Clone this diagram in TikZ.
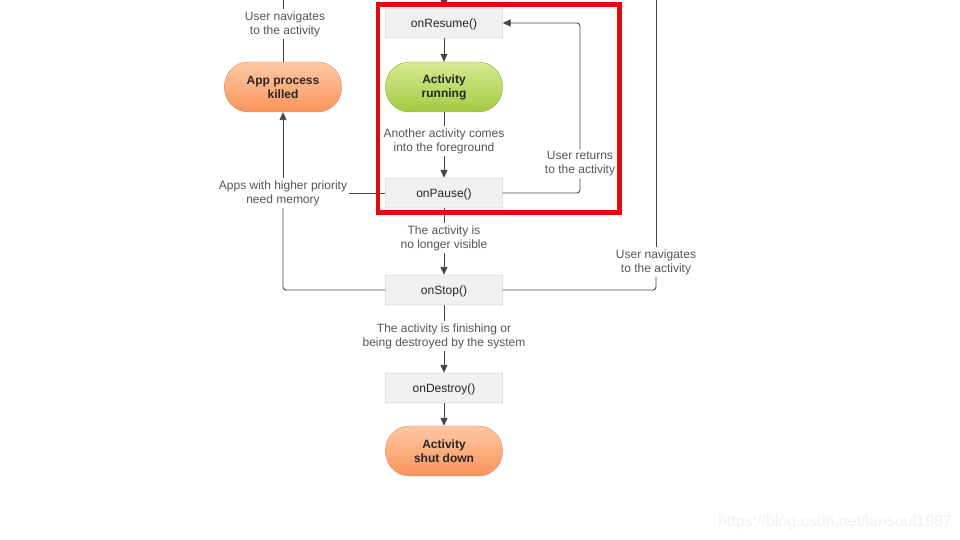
\documentclass[tikz,border=0pt]{standalone}
\usepackage{fontspec}
\setmainfont{Liberation Sans}
\usepackage{xcolor}
\definecolor{lineGray}{RGB}{68,68,68}
\definecolor{textGray}{RGB}{85,85,85}
\definecolor{boxFill}{RGB}{240,240,240}
\definecolor{boxLine}{RGB}{186,186,186}
\definecolor{greenTop}{RGB}{214,234,146}
\definecolor{greenBot}{RGB}{164,202,66}
\definecolor{greenLine}{RGB}{140,176,58}
\definecolor{orangeTop}{RGB}{255,200,164}
\definecolor{orangeBot}{RGB}{250,148,90}
\definecolor{orangeLine}{RGB}{214,138,96}
\definecolor{markRed}{RGB}{232,8,12}
\usetikzlibrary{arrows.meta}

\begin{document}
\begin{tikzpicture}[
    x=1pt,y=-1pt,
    every node/.style={font=\fontsize{12}{14}\selectfont},
    call/.style={draw=boxLine,fill=boxFill,minimum width=117pt,
                minimum height=30pt,text=black!85,rounded corners=1pt,
                text height=11pt,text depth=2.5pt},
    pill/.style={draw=#1Line,top color=#1Top,bottom color=#1Bot,
                minimum width=117pt,minimum height=50pt,rounded corners=24pt,
                align=center,text=black!85,font=\fontsize{12}{14}\selectfont\bfseries},
    lbl/.style={fill=white,align=center,text=textGray,inner sep=2pt},
    wire/.style={draw=lineGray,line width=0.9pt,rounded corners=3pt},
    arr/.style={wire,-{Triangle[length=8pt,width=7pt]}},
  ]
    \useasboundingbox (0,0) rectangle (960,540);

    % Callbacks and states
    \node[call] (resume)   at (444,23)  {onResume()};
    \node[pill=green] (running) at (444,87) {Activity\\running};
    \node[call] (pause)    at (444,193) {onPause()};
    \node[call] (stop)     at (444,290) {onStop()};
    \node[call] (destroy)  at (444,388) {onDestroy()};
    \node[pill=orange] (shutdown) at (444,451) {Activity\\shut down};
    \node[pill=orange] (killed)   at (283,87)  {App process\\killed};

    % Labels
    \node[lbl] (lblfg)   at (444,141) {Another activity comes\\into the foreground};
    \node[lbl] (lblret)  at (580,164) {User returns\\to the activity};
    \node[lbl] (lblvis)  at (444,238) {The activity is\\no longer visible};
    \node[lbl] (lblfin)  at (444,336) {The activity is finishing or\\being destroyed by the system};
    \node[lbl] (lblmem)  at (283,193) {Apps with higher priority\\need memory};
    \node[lbl] (lblnavA) at (285,24)  {User navigates\\to the activity};
    \node[lbl] (lblnavB) at (656,262) {User navigates\\to the activity};

    \coordinate (topA) at (283,0);
    \coordinate (topB) at (444,0);
    \coordinate (topC) at (656,0);

    % Main flow
    \draw[arr] (topB) -- (resume);
    \draw[arr] (resume) -- (running);
    \draw[wire] (running) -- (lblfg);
    \draw[arr] (lblfg) -- (pause);
    \draw[wire] (pause) -- (lblvis);
    \draw[arr] (lblvis) -- (stop);
    \draw[wire] (stop) -- (lblfin);
    \draw[arr] (lblfin) -- (destroy);
    \draw[arr] (destroy) -- (shutdown);

    % Back to onResume
    \draw[wire] (pause.east) -| (lblret.south);
    \draw[arr] (lblret.north) |- (resume.east);

    % Process killed
    \draw[wire] (pause.west) -- (pause.west -| lblmem.east);
    \draw[wire] (stop.west) -| (lblmem.south);
    \draw[arr] (lblmem.north) -- (killed.south);
    \draw[wire] (killed.north) -- (lblnavA.south -| killed.north);
    \draw[wire] (lblnavA.north -| killed.north) -- (topA);

    % Restart
    \draw[wire] (stop.east) -| (lblnavB.south);
    \draw[wire] (lblnavB.north) -- (topC);

    % Highlight
    \draw[markRed,line width=4.5pt] (378,4.5) rectangle (619.5,212.5);

    \node[text=black!6,font=\fontsize{16}{18}\selectfont] (mark) at (835,522)
      {https://blog.csdn.net/lansoul1987};
  \end{tikzpicture}
\end{document}
